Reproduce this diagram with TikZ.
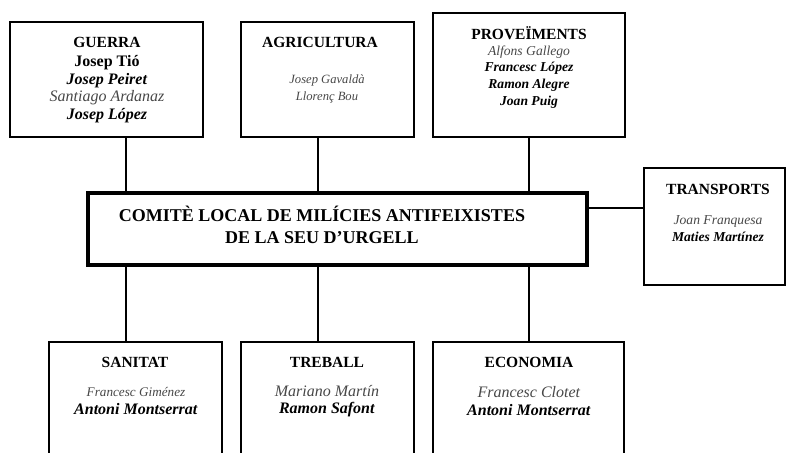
\documentclass[tikz,border=0pt]{standalone}
\usepackage{fontspec}
\setmainfont{Liberation Serif}
\definecolor{softgray}{gray}{0.28}
\begin{document}
\begin{tikzpicture} [
                x=1pt, y=-1pt,
                box/.style={draw, line width=1.8pt, anchor=north west, inner sep=0pt, outer sep=0pt},
                main box/.style = {box, line width=3.8pt},
                head/.style = {inner sep=0pt, font=\bfseries\fontsize{15.5}{18}\selectfont},
                names/.style = {inner sep=0pt, align=center, font=\fontsize{16}{17.6}\selectfont},
                small names/.style = {names, font=\fontsize{13.6}{16.8}\selectfont},
                link/.style = {draw, line width=1.5pt},
            ]
            \clip (0,0) rectangle (786,452);
            % First we draw the boxes
            \foreach \pos/\w/\h/\name in {
                    {(10,22)/193/115/guerra}, {(241,22)/173/115/agricultura},
                    {(433,13)/192/124/proveiments}, {(644,168)/141/117/transports},
                    {(49,342)/173/130/sanitat}, {(241,342)/173/130/treball},
                    {(433,342)/191/130/economia}}
                \node[box, minimum width=\w*1pt, minimum height=\h*1pt] (\name) at \pos {};
            \node[main box, minimum width=499pt, minimum height=72pt] (comite) at (88,193) {};
            % the committee title
            \node[inner sep=0pt, align=center, font=\bfseries\fontsize{18}{22.5}\selectfont]
                (comiteHead) at (322,225) {COMITÈ LOCAL DE MILÍCIES ANTIFEIXISTES\\DE LA SEU D’URGELL};
            % heads of the sections
            \foreach \pos/\name/\txt in {
                    {(107,42)/guerraHead/GUERRA}, {(320,42)/agriculturaHead/AGRICULTURA},
                    {(529,33)/proveimentsHead/PROVEÏMENTS}, {(718,189)/transportsHead/TRANSPORTS},
                    {(135,362)/sanitatHead/SANITAT}, {(327,362)/treballHead/TREBALL},
                    {(529,362)/economiaHead/ECONOMIA}}
                \node[head] (\name) at \pos {\txt};
            % members
            \node[names] (guerraNames) at (107,89) {\textbf{Josep Tió}\\\textbf{\textit{Josep Peiret}}\\
                {\color{softgray}\textit{Santiago Ardanaz}}\\\textbf{\textit{Josep López}}};
            \node[small names, text=softgray, font=\itshape\fontsize{12.6}{17}\selectfont]
                (agriculturaNames) at (327,89) {Josep Gavaldà\\Llorenç Bou};
            \node[small names] (proveimentsNames) at (529,77) {{\color{softgray}\textit{Alfons Gallego}}\\
                \textbf{\textit{Francesc López}}\\\textbf{\textit{Ramon Alegre}}\\\textbf{\textit{Joan Puig}}};
            \node[small names] (transportsNames) at (718,229) {{\color{softgray}\textit{Joan Franquesa}}\\
                \textbf{\textit{Maties Martínez}}};
            \node[names] (sanitatNames) at (136,401) {{\color{softgray}\fontsize{13.2}{17}\selectfont\textit{Francesc Giménez}}\\
                \textbf{\textit{Antoni Montserrat}}};
            \node[names] (treballNames) at (327,401) {{\color{softgray}\textit{Mariano Martín}}\\
                \textbf{\textit{Ramon Safont}}};
            \node[names] (economiaNames) at (529,401) {{\color{softgray}\textit{Francesc Clotet}}\\
                \textbf{\textit{Antoni Montserrat}}};
            % Connect the sections with the committee
            \coordinate (c1) at (126,0);
            \coordinate (c2) at (318,0);
            \coordinate (c3) at (529,0);
            \coordinate (c4) at (0,208);
            \foreach \up/\down/\c in {
                    guerra/sanitat/c1, agricultura/treball/c2, proveiments/economia/c3} {
                \path[link] (\up.south -| \c) -- (comite.north -| \c);
                \path[link] (comite.south -| \c) -- (\down.north -| \c);
            }
            \path[link] (comite.east |- c4) -- (transports.west |- c4);
        \end{tikzpicture}
\end{document}
